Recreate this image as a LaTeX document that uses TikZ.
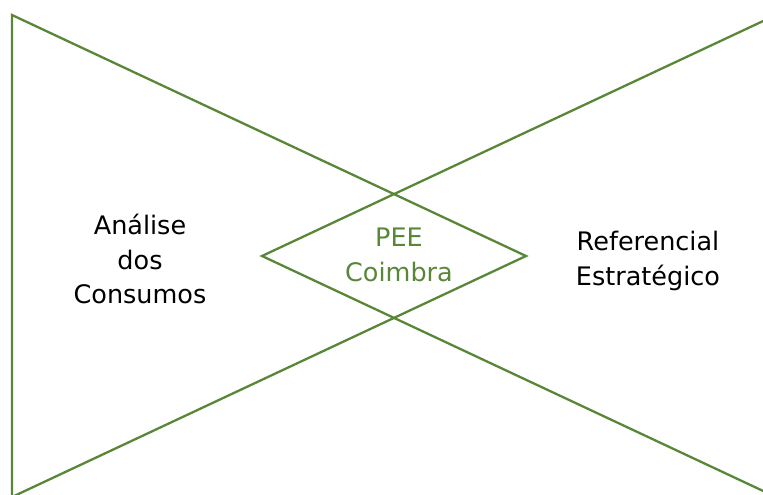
\documentclass[tikz,border=0pt]{standalone}
\usepackage{fontspec}
\setmainfont{DejaVu Sans}
\definecolor{pgreen}{RGB}{88,135,56}
\begin{document}
\begin{tikzpicture}[x=1pt,y=-1pt,
  shape line/.style={draw=pgreen,line width=2.3pt,line join=miter},
  lbl/.style={align=center,font=\fontsize{25.5}{34.5}\selectfont,inner sep=0pt}]
\useasboundingbox (0,0) rectangle (763,495);
\coordinate (L1) at (12,15);
\coordinate (Ltip) at (526,256);
\coordinate (L2) at (12,497);
\coordinate (R1) at (776,15);
\coordinate (Rtip) at (262,256);
\coordinate (R2) at (776,497);
\draw[shape line] (L1) -- (Ltip) -- (L2) -- cycle;
\draw[shape line] (R1) -- (Rtip) -- (R2);
\node[lbl] (analise) at (140,259) {Análise\\dos\\Consumos};
\node[lbl] (ref) at (648,261) {Referencial\\Estratégico};
\node[lbl,text=pgreen] (pee) at (399,255) {PEE\\Coimbra};
\end{tikzpicture}
\end{document}
